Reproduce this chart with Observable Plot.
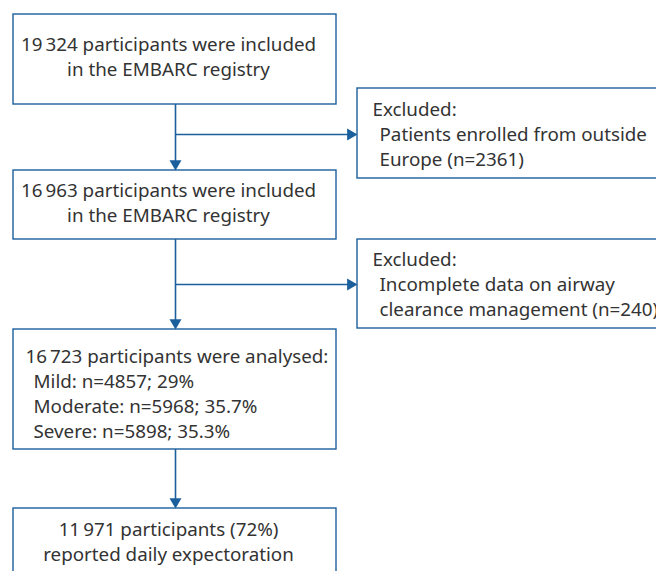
<!DOCTYPE html>
<html>
<head>
<meta charset="utf-8">
<script src="https://cdn.jsdelivr.net/npm/d3@7"></script>
<script src="https://cdn.jsdelivr.net/npm/@observablehq/plot@0.6"></script>
<style>
  html, body { margin: 0; padding: 0; background: #fff; overflow: hidden; }
  #chart svg { display: block; overflow: hidden; }
</style>
</head>
<body>
<div id="chart"></div>
<script>
// ---- content (text of each flowchart node) ----
const nodeIds = ["registry", "europe", "analysed", "expectoration", "excl1", "excl2"];
const nodeHeadings = [
  "19\u2009324 participants were included",
  "16\u2009963 participants were included",
  "16\u2009723 participants were analysed:",
  "11\u2009971 participants (72%)",
  "Excluded:",
  "Excluded:"
];
const nodeDetails = [
  ["in the EMBARC registry"],
  ["in the EMBARC registry"],
  ["Mild: n=4857; 29%", "Moderate: n=5968; 35.7%", "Severe: n=5898; 35.3%"],
  ["reported daily expectoration"],
  ["Patients enrolled from outside", "Europe (n=2361)"],
  ["Incomplete data on airway", "clearance management (n=240)"]
];
// main flow edges (downward) and exclusion edges (branch to the right)
const flowEdges = [["registry", "europe"], ["europe", "analysed"], ["analysed", "expectoration"]];
const exclEdges = [["registry", "excl1"], ["europe", "excl2"]];

// ---- layout (diagram units = pixels of the 656x571 canvas) ----
const layout = {
  registry:      {x1: 13,  x2: 336, y1: 14,  y2: 104, tx: 168, ty: 50,  align: "middle", indent: 0},
  europe:        {x1: 13,  x2: 336, y1: 170, y2: 239, tx: 168, ty: 196, align: "middle", indent: 0},
  analysed:      {x1: 13,  x2: 336, y1: 329, y2: 449, tx: 25,  ty: 362, align: "start",  indent: 8},
  expectoration: {x1: 13,  x2: 336, y1: 508, y2: 620, tx: 168, ty: 535, align: "middle", indent: 0},
  excl1:         {x1: 357, x2: 720, y1: 88,  y2: 178, tx: 372, ty: 115, align: "start",  indent: 7},
  excl2:         {x1: 357, x2: 720, y1: 239, y2: 328, tx: 372, ty: 265, align: "start",  indent: 7}
};
const lineH = 25.3;
const BLUE = "#1b5f9c";
const INK = "#333333";
const FONT = "'Noto Sans', sans-serif";
const FS = 18.8;

const boxes = nodeIds.map(id => ({id, ...layout[id]}));
const textRows = nodeIds.flatMap((id, i) => {
  const L = layout[id];
  const rows = [nodeHeadings[i], ...nodeDetails[i]];
  return rows.map((t, j) => ({
    text: t,
    x: L.tx + (j > 0 ? L.indent : 0),
    y: L.ty + j * lineH,
    anchor: L.align
  }));
});

const spineX = 175; // x of the vertical connector (box centre)
// vertical segments
const vSegs = flowEdges.map(([a, b]) => ({x: spineX, y1: layout[a].y2, y2: layout[b].y1}));
// horizontal branches to the exclusion boxes
const hSegs = exclEdges.map(([a, b]) => {
  const yMid = layout[b].y1 + (layout[b].y2 - layout[b].y1) / 2 + (b === "excl1" ? 1 : 0.5);
  return {x1: spineX, x2: layout[b].x1, y: yMid};
});
const tipH = 6.9;
const downHeads = flowEdges.map(([a, b]) => ({x: spineX, y: layout[b].y1 - tipH}));
const rightHeads = hSegs.map(s => ({x: s.x2 - tipH, y: s.y}));

const W = 656, H = 571;
const textOpts = {x: "x", y: "y", text: "text", lineAnchor: "bottom", fontSize: FS, fill: INK, fontFamily: FONT};
const plot = Plot.plot({
  width: W, height: H,
  margin: 0,
  x: {domain: [0, W], range: [0, W], axis: null},
  y: {domain: [0, H], range: [0, H], axis: null},
  style: {fontFamily: FONT, background: "#fff"},
  marks: [
    Plot.rect(boxes, {x1: "x1", x2: "x2", y1: "y1", y2: "y2", fill: "#fff", stroke: BLUE, strokeWidth: 1.4}),
    Plot.ruleX(vSegs, {x: "x", y1: "y1", y2: d => d.y2 - 8, stroke: BLUE, strokeWidth: 1.6}),
    Plot.ruleY(hSegs, {y: "y", x1: "x1", x2: d => d.x2 - 8, stroke: BLUE, strokeWidth: 1.6}),
    Plot.dot(downHeads, {x: "x", y: "y", symbol: "triangle", r: 4.45, fill: BLUE, stroke: null, rotate: 180}),
    Plot.dot(rightHeads, {x: "x", y: "y", symbol: "triangle", r: 4.45, fill: BLUE, stroke: null, rotate: 90}),
    Plot.text(textRows.filter(d => d.anchor === "middle"), {...textOpts, textAnchor: "middle"}),
    Plot.text(textRows.filter(d => d.anchor === "start"), {...textOpts, textAnchor: "start"})
  ]
});
document.getElementById("chart").appendChild(plot);
</script>
</body>
</html>
